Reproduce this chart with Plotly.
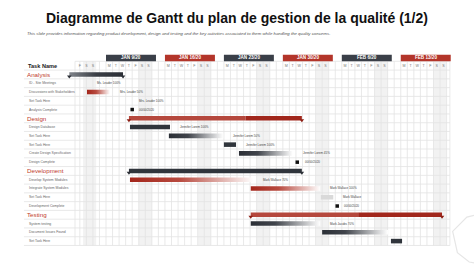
import plotly.graph_objects as go

# ---------------- data ----------------
title_text = "Diagramme de Gantt du plan de gestion de la qualité (1/2)"
subtitle_text = ("This slide provides information regarding product development, design and testing "
                 "and the key activities associated to them while handling the quality concerns.")

week_labels = ["JAN 9/20", "JAN 16/20", "JAN 23/20", "JAN 30/20", "FEB 6/20", "FEB 13/20"]
week_tones = ["dark", "red", "dark", "red", "dark", "red"]
day_letters = ["M", "T", "W", "T", "F", "S", "S"]
lead_letters = ["F", "S", "S"]
lead_cols = [-4.5, -3.5, -2.5]

task_names = [
    "Analysis", "ID - Site Meetings", "Discussions with Stakeholders", "Set Task Here", "Analysis Complete",
    "Design", "Design Database", "Set Task Here", "Set Task Here", "Create Design Specification", "Design Complete",
    "Development", "Develop System Modules", "Integrate System Modules", "Set Task Here", "Development Complete",
    "Testing", "System testing", "Document Issues Found", "Set Task Here",
]
task_kind = [
    "section", "task", "task", "task", "milestone",
    "section", "task", "task", "task", "task", "milestone",
    "section", "task", "task", "task", "milestone",
    "section", "task", "task", "task",
]
# start / end in grid columns (column 0 = Monday of week JAN 9/20)
task_start = [-5.6, -4.6, -2.9, 0.6, 4.0, 3.5, 3.66, 9.6, 18.0, 20.3, 29.2,
              3.5, 3.66, 22.1, 32.8, 35.3, 22.1, 22.1, 33.0, 43.5]
task_end = [2.6, -2.9, 0.6, 3.5, 4.0, 29.9, 9.77, 17.9, 19.85, 28.5, 29.2,
            29.9, 22.5, 32.7, 34.7, 35.3, 51.3, 32.7, 43.05, 45.2]
task_split = [None, None, None, None, None, 21.3, None, None, None, None, None,
              None, None, None, None, None, 38.5, None, None, None]
task_style = ["dark_grad", "none", "red_grad", "none", "mile",
              "red_two", "dark", "dark_grad", "dark", "dark_grad", "mile",
              "dark", "red_grad", "red_grad", "light", "mile",
              "red_two", "dark_grad", "dark_grad", "dark"]
task_note = ["", "Ms. Leader 100%", "Mrs. Leader 50%", "Mrs. Leader 100%", "00/00/2020",
             "", "Jennifer Lorem 100%", "Jennifer Lorem 50%", "Jennifer Lorem 100%", "Jennifer Lorem 45%", "00/00/2020",
             "", "Mark Wallace 70%", "Mark Wallace 100%", "Mark Wallace", "00/00/2020",
             "", "Mark Jacobs 70%", "", ""]

# ---------------- geometry ----------------
W, H = 474, 266
COL_PX, COL0_PX = 6.55, 106.0
ROW_PX, ROW0_PX = 8.77, 65.7
WEEK_COLS = 9
GRID_X0, GRID_X1 = -4.73, 52.5
LABEL_X = -12.2
LINE_X0 = -12.52
BAR_H = 0.52

DARK = "#30353c"
xr = [-COL0_PX / COL_PX, (W - COL0_PX) / COL_PX]
yr = [(H - ROW0_PX) / ROW_PX, -ROW0_PX / ROW_PX]
n_rows = len(task_names)
grid_top, grid_bot = -0.5, n_rows + 0.5

fig = go.Figure()
shapes = []
annotations = []

# weekend shading
for w in range(len(week_labels)):
    x0 = w * WEEK_COLS + 5
    shapes.append(dict(type="rect", xref="x", yref="y", x0=x0, x1=min(x0 + 2, GRID_X1),
                       y0=grid_top, y1=grid_bot, fillcolor="#f2f2f2", line_width=0, layer="below"))
shapes.append(dict(type="rect", xref="x", yref="y", x0=lead_cols[1], x1=lead_cols[2] + 1,
                   y0=grid_top, y1=grid_bot, fillcolor="#f2f2f2", line_width=0, layer="below"))

# grid lines (below all traces)
vlines = [GRID_X0] + list(range(-4, 53)) + [GRID_X1]
for v in vlines:
    shapes.append(dict(type="line", xref="x", yref="y", x0=v, x1=v, y0=grid_top, y1=grid_bot,
                       line=dict(color="#e3e3e3", width=0.8), layer="below"))
for k in range(n_rows + 2):
    yy = grid_top + k
    x0 = GRID_X0 if k == 0 else LINE_X0
    shapes.append(dict(type="line", xref="x", yref="y", x0=x0, x1=GRID_X1, y0=yy, y1=yy,
                       line=dict(color="#e3e3e3", width=0.8), layer="below"))

# faint decorative hexagon outline (bottom right)
shapes.append(dict(type="path", xref="paper", yref="paper",
                   path="M 1.0,0.19 L 0.985,0.184 L 0.955,0.13 L 0.965,0.05 L 0.99,0.015 L 1.0,0.012",
                   line=dict(color="#e6e6e6", width=1.2), layer="below"))

# week header boxes
for w, (lab, tone) in enumerate(zip(week_labels, week_tones)):
    x0 = w * WEEK_COLS
    shapes.append(dict(type="rect", xref="x", yref="y", x0=x0, x1=x0 + 7.63, y0=-1.25, y1=-0.52,
                       fillcolor="#3a3f48" if tone == "dark" else "#b3352a", line_width=0))
    annotations.append(dict(x=x0 + 3.8, y=-0.88, xref="x", yref="y", text="<b>" + lab + "</b>",
                            showarrow=False, font=dict(size=4.6, color="white", family="Liberation Sans")))

# day letters
lx, lt = [], []
for i, l in enumerate(lead_letters):
    lx.append(lead_cols[i] + 0.5); lt.append(l)
for w in range(len(week_labels)):
    for d, l in enumerate(day_letters):
        cx = w * WEEK_COLS + d + 0.5
        if cx < GRID_X1:
            lx.append(cx); lt.append(l)
fig.add_trace(go.Scatter(x=lx, y=[0] * len(lx), mode="text", text=lt, textposition="middle center",
                         textfont=dict(size=3.6, color="#777", family="Liberation Sans"),
                         hoverinfo="skip", showlegend=False))

annotations.append(dict(x=LABEL_X, y=0, xref="x", yref="y", text="<b>Task Name</b>", xanchor="left",
                        showarrow=False, font=dict(size=5.6, color="#222", family="Liberation Sans")))


def bar_poly(s, e, r, color=None, cs=None):
    y0, y1 = r - BAR_H / 2, r + BAR_H / 2
    kw = dict(fillgradient=dict(type="horizontal", colorscale=cs)) if cs else dict(fillcolor=color)
    fig.add_trace(go.Scatter(x=[s, e, e, s, s], y=[y0, y0, y1, y1, y0], fill="toself", mode="lines",
                             line=dict(width=0, color="rgba(0,0,0,0)"),
                             hoverinfo="skip", showlegend=False, **kw))


dark_cs = [[0, "#2b2f36"], [0.35, "#40444b"], [1, "#ffffff"]]
red_cs = [[0, "#a3261b"], [0.4, "#b84a3f"], [1, "#ffffff"]]
sect_cs = [[0, "#80848a"], [0.5, "#3a3e45"], [1, "#2b2f36"]]

mx, my = [], []
cap_x, cap_y, cap_c = [], [], []
for i, name in enumerate(task_names):
    r = i + 1
    s, e, st, kind = task_start[i], task_end[i], task_style[i], task_kind[i]
    if kind == "section":
        annotations.append(dict(x=LABEL_X - 0.1, y=r, xref="x", yref="y", text=name, xanchor="left",
                                showarrow=False, font=dict(size=6.2, color="#c0392b", family="Liberation Sans")))
    else:
        annotations.append(dict(x=LABEL_X + 0.1, y=r, xref="x", yref="y", text=name, xanchor="left",
                                showarrow=False, font=dict(size=3.4, color="#666", family="Liberation Sans")))
    if st == "dark_grad":
        bar_poly(s, e, r, cs=sect_cs if kind == "section" else dark_cs)
    elif st == "red_grad":
        bar_poly(s, e, r, cs=red_cs)
    elif st == "dark":
        bar_poly(s, e, r, color=DARK)
    elif st == "light":
        bar_poly(s, e, r, color="#d9d9d9")
    elif st == "red_two":
        bar_poly(s, task_split[i], r, color="#b5483d")
        bar_poly(task_split[i], e, r, color="#a1271c")
    elif st == "mile":
        mx.append(s); my.append(r)
    if kind == "section":
        col = "#2b2f36" if st.startswith("dark") else "#8c1f15"
        for xx in (s, e):
            cap_x.append(xx); cap_y.append(r + 0.22); cap_c.append(col)
    note = task_note[i]
    if note:
        off = 0.8 if kind == "milestone" else 1.2
        annotations.append(dict(x=e + off, y=r, xref="x", yref="y", text=note, xanchor="left",
                                showarrow=False, font=dict(size=3.0, color="#444", family="Liberation Sans")))

fig.add_trace(go.Scatter(x=mx, y=my, mode="markers", marker=dict(symbol="square", size=3.5, color="#111"),
                         hoverinfo="skip", showlegend=False))
fig.add_trace(go.Scatter(x=cap_x, y=cap_y, mode="markers",
                         marker=dict(symbol="triangle-down", size=4, color=cap_c),
                         hoverinfo="skip", showlegend=False))

annotations.append(dict(x=0.5, y=1 - 18 / H, xref="paper", yref="paper", text="<b>" + title_text + "</b>",
                        xanchor="center", yanchor="middle",
                        showarrow=False, font=dict(size=14, color="#111", family="Liberation Sans")))
annotations.append(dict(x=25 / W, y=1 - 33.5 / H, xref="paper", yref="paper", text="<i>" + subtitle_text + "</i>",
                        xanchor="left", yanchor="middle",
                        showarrow=False, font=dict(size=4.3, color="#555", family="Liberation Sans")))

fig.update_layout(
    width=W, height=H, margin=dict(l=0, r=0, t=0, b=0),
    paper_bgcolor="white", plot_bgcolor="white",
    xaxis=dict(range=xr, visible=False, fixedrange=True),
    yaxis=dict(range=yr, visible=False, fixedrange=True),
    shapes=shapes, annotations=annotations, showlegend=False,
)
fig.write_html("out.html")
